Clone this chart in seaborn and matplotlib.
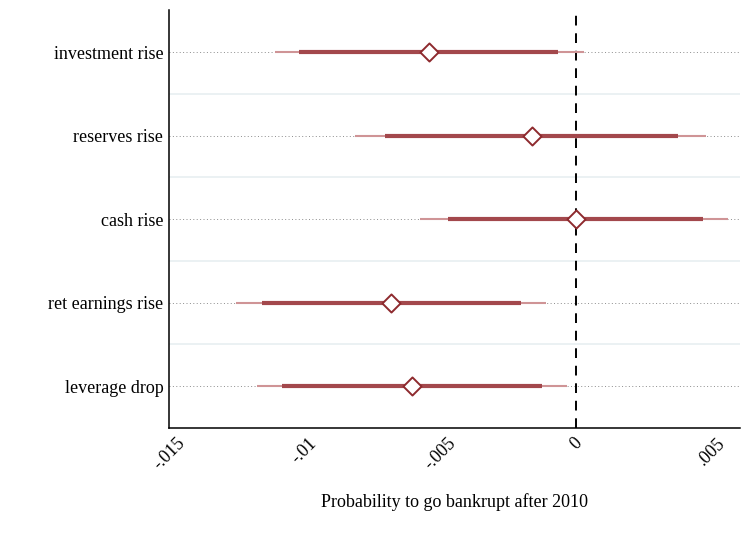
import numpy as np
import pandas as pd
import matplotlib
matplotlib.use("Agg")
import matplotlib.pyplot as plt
import seaborn as sns

# estimates
labels = ["investment rise", "reserves rise", "cash rise", "ret earnings rise", "leverage drop"]
coef = [-0.00541, -0.00163, 0.0, -0.00681, -0.00604]
ci90_lo = [-0.01021, -0.00705, -0.00472, -0.01158, -0.01082]
ci90_hi = [-0.00066, 0.00376, 0.00469, -0.00202, -0.00126]
ci95_lo = [-0.01109, -0.00813, -0.00576, -0.01252, -0.01174]
ci95_hi = [0.0003, 0.00479, 0.00561, -0.00112, -0.00035]
xticks = [-0.015, -0.01, -0.005, 0, 0.005]
xticklabels = ["-.015", "-.01", "-.005", "0", ".005"]

df = pd.DataFrame({"label": labels, "coef": coef,
                   "lo90": ci90_lo, "hi90": ci90_hi,
                   "lo95": ci95_lo, "hi95": ci95_hi})
df["pos"] = np.arange(len(df))

sns.set_style("white")
plt.rcParams["font.family"] = ["Liberation Serif", "DejaVu Serif"]
plt.rcParams["text.color"] = "black"
plt.rcParams["axes.labelcolor"] = "black"
plt.rcParams["xtick.color"] = "black"
plt.rcParams["ytick.color"] = "black"

fig = plt.figure(figsize=(7.44, 5.33), dpi=100)
ax = fig.add_axes([0.227, 0.197, 0.768, 0.784])

# light separators between rows
for p in df["pos"][:-1]:
    ax.axhline(p + 0.5, color="#e9f0f2", lw=1.3, zorder=0)

# dotted guide lines per row
for p in df["pos"]:
    ax.axhline(p, color="#8c8c8c", lw=0.7, ls=(0, (1, 2.5)), zorder=1)

ax.axvline(0, color="black", lw=1.4, ls=(0, (5, 4)), zorder=2)

bar_col = "#a3484c"
ax.hlines(df["pos"], df["lo95"], df["hi95"], color="#cf9496", lw=1.5, zorder=3)
ax.hlines(df["pos"], df["lo90"], df["hi90"], color=bar_col, lw=3.0, zorder=4)

sns.scatterplot(data=df, x="coef", y="pos", marker="D", s=85,
                facecolor="white", edgecolor="#8e2a2e", linewidth=1.4,
                zorder=5, ax=ax, legend=False)

ax.set_xlim(-0.015, 0.00605)
ax.set_ylim(4.503, -0.502)
ax.set_yticks(df["pos"])
ax.set_yticklabels(df["label"], fontsize=13, color="black")
ax.set_xticks(xticks)
ax.set_xticklabels(xticklabels, fontsize=13, rotation=45, ha="center", va="top",
                   color="black")
ax.tick_params(axis="y", length=0, pad=4)
ax.tick_params(axis="x", length=0, pad=5)

ax.set_xlabel("Probability to go bankrupt after 2010", fontsize=13, labelpad=14,
              color="black")
ax.set_ylabel("")

sns.despine(ax=ax, top=True, right=True)
for s in ["left", "bottom"]:
    ax.spines[s].set_color("black")
    ax.spines[s].set_linewidth(1.1)

fig.savefig("out.png", dpi=100)
